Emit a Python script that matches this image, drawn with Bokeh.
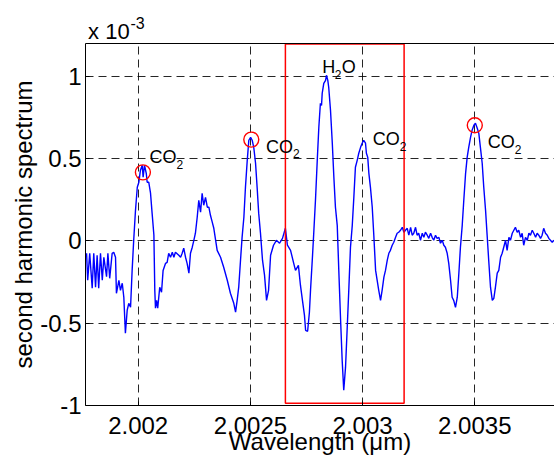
from bokeh.plotting import figure
from bokeh.models import Range1d, FixedTicker, LinearAxis
from bokeh.core.properties import value
from bokeh.embed import file_html
from bokeh.resources import INLINE

# ---------------- data (spectrum values in units of 1e-3) ----------------
wavelength = [
    2.001770, 2.001775, 2.001784, 2.001795, 2.001802, 2.001810, 2.001817, 2.001824, 2.001832, 2.001840,
    2.001847, 2.001859, 2.001865, 2.001873, 2.001884, 2.001891, 2.001899, 2.001903, 2.001914, 2.001921,
    2.001929, 2.001936, 2.001943, 2.001951, 2.001958, 2.001966, 2.001973, 2.001980, 2.001988, 2.001996,
    2.002003, 2.002010, 2.002018, 2.002022, 2.002028, 2.002036, 2.002040, 2.002047, 2.002055, 2.002062,
    2.002070, 2.002074, 2.002077, 2.002082, 2.002087, 2.002096, 2.002104, 2.002111, 2.002122, 2.002129,
    2.002136, 2.002144, 2.002152, 2.002159, 2.002166, 2.002181, 2.002189, 2.002196, 2.002203, 2.002211,
    2.002218, 2.002226, 2.002233, 2.002241, 2.002248, 2.002255, 2.002263, 2.002270, 2.002278, 2.002285,
    2.002292, 2.002300, 2.002308, 2.002315, 2.002322, 2.002330, 2.002337, 2.002352, 2.002367, 2.002381,
    2.002397, 2.002411, 2.002426, 2.002434, 2.002441, 2.002448, 2.002456, 2.002463, 2.002471, 2.002478,
    2.002486, 2.002493, 2.002501, 2.002508, 2.002515, 2.002523, 2.002530, 2.002537, 2.002545, 2.002554,
    2.002563, 2.002572, 2.002581, 2.002590, 2.002603, 2.002616, 2.002630, 2.002643, 2.002656, 2.002665,
    2.002679, 2.002692, 2.002701, 2.002714, 2.002723, 2.002732, 2.002741, 2.002746, 2.002755, 2.002763,
    2.002768, 2.002777, 2.002783, 2.002790, 2.002798, 2.002805, 2.002812, 2.002817, 2.002820, 2.002827,
    2.002835, 2.002839, 2.002845, 2.002849, 2.002857, 2.002865, 2.002872, 2.002879, 2.002887, 2.002894,
    2.002902, 2.002909, 2.002916, 2.002924, 2.002931, 2.002939, 2.002946, 2.002954, 2.002961, 2.002968,
    2.002976, 2.002983, 2.002991, 2.002998, 2.003005, 2.003013, 2.003017, 2.003023, 2.003028, 2.003035,
    2.003043, 2.003050, 2.003058, 2.003065, 2.003072, 2.003080, 2.003087, 2.003095, 2.003102, 2.003110,
    2.003117, 2.003124, 2.003132, 2.003139, 2.003147, 2.003154, 2.003161, 2.003169, 2.003177, 2.003184,
    2.003191, 2.003199, 2.003206, 2.003214, 2.003221, 2.003228, 2.003236, 2.003243, 2.003250, 2.003258,
    2.003266, 2.003273, 2.003280, 2.003288, 2.003295, 2.003303, 2.003310, 2.003317, 2.003325, 2.003332,
    2.003340, 2.003347, 2.003355, 2.003362, 2.003369, 2.003377, 2.003384, 2.003392, 2.003399, 2.003406,
    2.003414, 2.003422, 2.003429, 2.003436, 2.003444, 2.003451, 2.003459, 2.003466, 2.003473, 2.003481,
    2.003488, 2.003496, 2.003503, 2.003511, 2.003518, 2.003525, 2.003533, 2.003540, 2.003548, 2.003555,
    2.003562, 2.003570, 2.003578, 2.003585, 2.003592, 2.003600, 2.003607, 2.003615, 2.003622, 2.003629,
    2.003637, 2.003644, 2.003652, 2.003659, 2.003667, 2.003674, 2.003681, 2.003689, 2.003696, 2.003704,
    2.003711, 2.003718, 2.003726, 2.003734, 2.003741, 2.003748, 2.003756, 2.003763, 2.003771, 2.003778,
    2.003785, 2.003793, 2.003800, 2.003807, 2.003815, 2.003823, 2.003830, 2.003837, 2.003845, 2.003852,
]
spectrum = [
    -0.075, -0.239, -0.075, -0.287, -0.075, -0.281, -0.087, -0.287, -0.075, -0.239,
    -0.099, -0.217, -0.075, -0.227, -0.075, -0.069, -0.099, -0.318, -0.239, -0.300,
    -0.257, -0.342, -0.561, -0.421, -0.379, -0.403, -0.179, 0.004, 0.187, 0.326,
    0.357, 0.430, 0.460, 0.387, 0.460, 0.411, 0.357, 0.357, 0.290, 0.169,
    0.035, -0.300, -0.409, -0.361, -0.409, -0.281, -0.312, -0.179, -0.136, -0.130,
    -0.075, -0.099, -0.069, -0.099, -0.069, -0.087, -0.099, -0.075, -0.044, -0.099,
    -0.136, -0.196, -0.075, -0.038, 0.004, 0.047, 0.144, 0.247, 0.175, 0.290,
    0.217, 0.265, 0.205, 0.205, 0.156, 0.114, 0.077, -0.057, -0.099, -0.160,
    -0.239, -0.318, -0.379, -0.433, -0.361, -0.281, -0.117, 0.022, 0.144, 0.326,
    0.490, 0.612, 0.630, 0.612, 0.569, 0.472, 0.326, 0.169, 0.047, -0.117,
    -0.208, -0.361, -0.300, -0.087, -0.026, 0.004, -0.014, 0.016, 0.077, -0.026,
    -0.057, -0.130, -0.179, -0.148, -0.269, -0.361, -0.452, -0.543, -0.549, -0.433,
    -0.300, -0.087, 0.065, 0.247, 0.490, 0.691, 0.837, 0.824, 0.897, 0.958,
    0.976, 1.007, 0.976, 0.934, 0.794, 0.594, 0.387, 0.205, 0.095, -0.179,
    -0.482, -0.725, -0.907, -0.767, -0.543, -0.281, -0.038, 0.095, 0.265, 0.448,
    0.490, 0.533, 0.569, 0.594, 0.612, 0.594, 0.533, 0.508, 0.411, 0.326,
    0.205, 0.035, -0.179, -0.239, -0.300, -0.361, -0.300, -0.220, -0.179, -0.117,
    -0.075, -0.057, -0.026, -0.008, 0.022, 0.047, 0.053, 0.065, 0.083, 0.053,
    0.065, 0.077, 0.035, 0.083, 0.035, 0.047, 0.083, 0.035, 0.047, 0.004,
    0.047, 0.022, 0.053, 0.035, 0.016, 0.047, 0.022, 0.004, 0.035, 0.016,
    0.022, -0.014, 0.004, -0.026, -0.038, -0.075, -0.136, -0.239, -0.342, -0.361,
    -0.403, -0.342, -0.196, -0.038, 0.095, 0.247, 0.411, 0.508, 0.569, 0.630,
    0.673, 0.703, 0.715, 0.685, 0.654, 0.569, 0.472, 0.326, 0.187, 0.035,
    -0.117, -0.281, -0.361, -0.348, -0.281, -0.196, -0.179, -0.099, -0.075, -0.038,
    0.004, -0.057, 0.022, 0.004, 0.047, 0.065, 0.083, 0.053, 0.065, 0.022,
    0.047, -0.026, 0.022, 0.004, 0.047, 0.035, 0.065, 0.047, 0.022, 0.047,
    0.035, 0.016, 0.035, 0.077, 0.047, 0.035, 0.016, 0.004, -0.008, 0.004,
]

# marked CO2 peaks (red circles)
peak_wavelength = [2.002021, 2.002504, 2.003500]
peak_value = [0.417, 0.616, 0.703]

# highlighted H2O/CO2 region (red box)
box_left = [2.002656]
box_right = [2.003185]
box_bottom = [-0.986]
box_top = [1.197]

# annotation anchors
co2_label_x = [2.002050, 2.002570, 2.0030455, 2.003558]
co2_label_y = [0.508, 0.571, 0.618, 0.601]
h2o_label_x = [2.002820]
h2o_label_y = [1.055]

x_ticks = [2.002, 2.0025, 2.003, 2.0035]
x_tick_labels = ["2.002", "2.0025", "2.003", "2.0035"]
y_ticks = [-1, -0.5, 0, 0.5, 1]
y_tick_labels = ["-1", "-0.5", "0", "0.5", "1"]

# exponent marker "x 10^-3" anchors (centre of each text piece on the wavelength axis)
scale_base_x = [2.0018692]
scale_exp_x = [2.0019969]

FONT = "Liberation Sans"

p = figure(width=554, height=457,
           x_range=Range1d(2.0017652, 2.0038552), y_range=Range1d(-1.0, 1.2),
           output_backend="svg", toolbar_location=None,
           min_border_left=85, min_border_right=0, min_border_top=43, min_border_bottom=52)
p.background_fill_color = "white"
p.border_fill_color = "white"
p.outline_line_color = None

# axes
p.xaxis.ticker = FixedTicker(ticks=x_ticks)
p.xaxis.major_label_overrides = dict(zip(x_ticks, x_tick_labels))
p.yaxis.ticker = FixedTicker(ticks=y_ticks)
p.yaxis.major_label_overrides = dict(zip(y_ticks, y_tick_labels))
for ax in (p.xaxis[0], p.yaxis[0]):
    ax.major_tick_in = 4
    ax.major_tick_out = 0
    ax.minor_tick_line_color = None
    ax.axis_line_color = "black"
    ax.axis_line_width = 1
    ax.major_tick_line_color = "black"
    ax.major_label_text_font = FONT
    ax.major_label_text_font_size = "24px"
    ax.major_label_text_color = "black"
    ax.axis_label_text_font = FONT
    ax.axis_label_text_font_size = "24px"
    ax.axis_label_text_font_style = "normal"
    ax.axis_label_text_color = "black"
p.xaxis.major_label_standoff = 11
p.xaxis.axis_label = "Wavelength (\u03bcm)"
p.xaxis.axis_label_standoff = -9
p.yaxis.major_label_standoff = 4
p.yaxis.axis_label = "second harmonic spectrum"
p.yaxis.axis_label_standoff = 0

# top border carrying the "x 10" part of the exponent marker
top_axis = LinearAxis(ticker=FixedTicker(ticks=scale_base_x), major_tick_in=0, major_tick_out=0,
                      major_tick_line_color=None, minor_tick_line_color=None,
                      major_label_overrides={scale_base_x[0]: "x 10"},
                      major_label_standoff=0, major_label_text_font=FONT,
                      major_label_text_font_size="22px", major_label_text_color="black",
                      axis_line_color="black")
p.add_layout(top_axis, "above")
# superscript "-3"
exp_axis = LinearAxis(ticker=FixedTicker(ticks=scale_exp_x), major_tick_in=0, major_tick_out=0,
                      major_tick_line_color=None, minor_tick_line_color=None,
                      major_label_overrides={scale_exp_x[0]: "-3"},
                      major_label_standoff=-13, major_label_text_font=FONT,
                      major_label_text_font_size="16px", major_label_text_color="black",
                      axis_line_color=None)
p.add_layout(exp_axis, "above")

# grid
for g in (p.xgrid[0], p.ygrid[0]):
    g.grid_line_color = "black"
    g.grid_line_dash = "8 5"
    g.grid_line_width = 1
    g.grid_line_alpha = 0.85

# spectrum
p.line(wavelength, spectrum, line_color="#0000FF", line_width=1.4)

# red box and circles
p.quad(left=box_left, right=box_right, bottom=box_bottom, top=box_top,
       fill_color=None, line_color="#FF0000", line_width=1.5)
p.scatter(peak_wavelength, peak_value, marker="circle", size=15,
          fill_color=None, line_color="#FF0000", line_width=1.4)

# molecule labels
p.text(co2_label_x, co2_label_y, text=["CO"] * 4, text_font=value(FONT),
       text_font_size=value("18px"), text_baseline="alphabetic", text_align="left", text_color="black")
p.text(co2_label_x, co2_label_y, text=["2"] * 4, text_font=value(FONT),
       text_font_size=value("12px"), text_baseline="alphabetic", text_align="left",
       x_offset=27, y_offset=7, text_color="black")
p.text(h2o_label_x, h2o_label_y, text=["H"], text_font=value(FONT),
       text_font_size=value("18px"), text_baseline="alphabetic", text_align="left", text_color="black")
p.text(h2o_label_x, h2o_label_y, text=["2"], text_font=value(FONT),
       text_font_size=value("12px"), text_baseline="alphabetic", text_align="left",
       x_offset=12.5, y_offset=7, text_color="black")
p.text(h2o_label_x, h2o_label_y, text=["O"], text_font=value(FONT),
       text_font_size=value("18px"), text_baseline="alphabetic", text_align="left",
       x_offset=19.5, text_color="black")

open("out.html", "w").write(file_html(p, INLINE))
